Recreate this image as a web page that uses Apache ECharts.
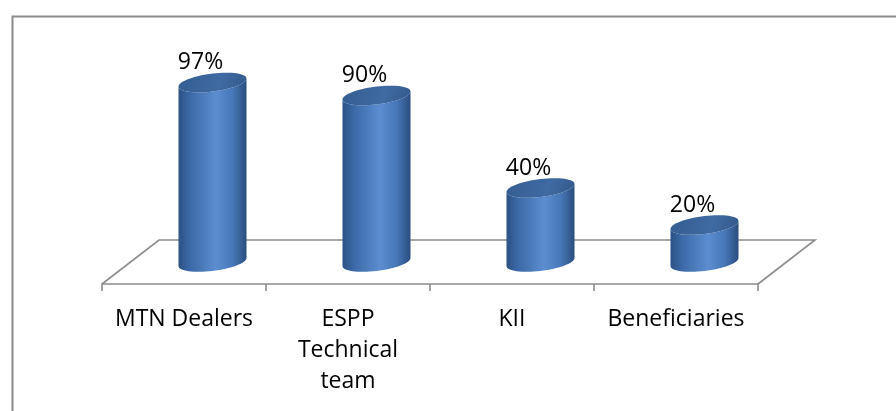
<!DOCTYPE html>
<html>
<head>
<meta charset="utf-8">
<script src="https://cdn.jsdelivr.net/npm/echarts@6/dist/echarts.min.js"></script>
<style>
  html, body { margin: 0; padding: 0; background: #fff; }
  #chart { width: 896px; height: 411px; }
</style>
</head>
<body>
<div id="chart"></div>
<script>
// Respondent groups and their percentages
const categories = ['MTN Dealers', 'ESPP\nTechnical\nteam', 'KII', 'Beneficiaries'];
const percentValues = [97, 90, 40, 20];

// Floor depth of the pseudo-3D plot area (pixels)
const DEPTH_X = 57;
const DEPTH_Y = -44;
const RX = 34;     // cylinder horizontal radius
const RY = 9;      // cylinder ellipse vertical radius
const TILT = 4;    // perspective skew of the ellipses (right side raised)
const FONT = '"Open Sans", sans-serif';

const chart = echarts.init(document.getElementById('chart'), null, { renderer: 'canvas' });

// point on a skewed ellipse, t in radians
function ep(cx, cy, t) {
  const c = Math.cos(t), s = Math.sin(t);
  return [cx + RX * c, cy + RY * s - TILT * c];
}

function ellipsePoints(cx, cy) {
  const pts = [];
  for (let i = 0; i < 64; i++) pts.push(ep(cx, cy, (i / 64) * Math.PI * 2));
  return pts;
}

function bodyPoints(cx, ty, by) {
  const pts = [];
  // left side down, front half of bottom ellipse, right side up, back along top ellipse front
  pts.push(ep(cx, ty, Math.PI));
  for (let i = 0; i <= 32; i++) pts.push(ep(cx, by, Math.PI - (i / 32) * Math.PI));
  for (let i = 0; i <= 32; i++) pts.push(ep(cx, ty, (i / 32) * Math.PI));
  return pts;
}

function bodyGradient() {
  return new echarts.graphic.LinearGradient(0, 0, 1, 0, [
    { offset: 0, color: '#2c5285' },
    { offset: 0.18, color: '#3d6aa8' },
    { offset: 0.55, color: '#5b8dd0' },
    { offset: 0.8, color: '#4677b8' },
    { offset: 1, color: '#2a4d7d' }
  ]);
}

function renderCylinder(params, api) {
  const top = api.coord([api.value(0), api.value(1)]);
  const base = api.coord([api.value(0), 0]);
  const cx = top[0] + DEPTH_X / 2;
  const ty = top[1] + DEPTH_Y / 2;
  const by = base[1] + DEPTH_Y / 2;
  return {
    type: 'group',
    children: [
      {
        type: 'polygon',
        shape: { points: bodyPoints(cx, ty, by) },
        style: { fill: bodyGradient(), stroke: null }
      },
      {
        type: 'polygon',
        shape: { points: ellipsePoints(cx, ty) },
        style: {
          fill: new echarts.graphic.LinearGradient(0, 0, 1, 1, [
            { offset: 0, color: '#345d91' },
            { offset: 0.6, color: '#3f6aa2' },
            { offset: 1, color: '#33598b' }
          ])
        }
      },
      {
        type: 'text',
        x: cx - 12,
        y: ty - RY - 11,
        style: {
          text: api.value(1) + '%',
          fill: '#000',
          font: '23px ' + FONT,
          align: 'center',
          verticalAlign: 'middle'
        }
      }
    ]
  };
}

function renderFloor(params, api) {
  if (params.dataIndex !== 0) return null;
  const cs = params.coordSys;
  const x0 = cs.x, x1 = cs.x + cs.width, y0 = cs.y + cs.height;
  const pts = [
    [x0, y0],
    [x0 + DEPTH_X, y0 + DEPTH_Y],
    [x1 + DEPTH_X, y0 + DEPTH_Y],
    [x1, y0]
  ];
  return {
    type: 'polyline',
    shape: { points: pts },
    style: { stroke: '#8c8c8c', lineWidth: 1.6, fill: null }
  };
}

chart.setOption({
  animation: false,
  backgroundColor: '#fff',
  graphic: [
    {
      type: 'rect',
      left: 10, top: 14,
      shape: { width: 900, height: 420 },
      style: { fill: null, stroke: '#8a8a8a', lineWidth: 2 },
      z: 0
    }
  ],
  grid: { left: 102, top: 99, width: 656, height: 185 },
  xAxis: {
    type: 'category',
    data: categories,
    boundaryGap: true,
    axisLine: { show: true, lineStyle: { color: '#8c8c8c', width: 1.6 } },
    axisTick: { show: true, inside: false, length: 7, interval: 0, lineStyle: { color: '#8c8c8c', width: 1.6 } },
    axisLabel: {
      interval: 0,
      margin: 20,
      color: '#000',
      fontFamily: FONT,
      fontSize: 23,
      lineHeight: 31
    }
  },
  yAxis: {
    type: 'value',
    min: 0,
    max: 100,
    show: false,
    splitLine: { show: false }
  },
  series: [
    {
      type: 'custom',
      renderItem: renderFloor,
      data: [0],
      z: 1,
      silent: true
    },
    {
      type: 'custom',
      renderItem: renderCylinder,
      encode: { x: 0, y: 1 },
      data: percentValues.map((v, i) => [i, v]),
      z: 3
    }
  ]
});
</script>
</body>
</html>
